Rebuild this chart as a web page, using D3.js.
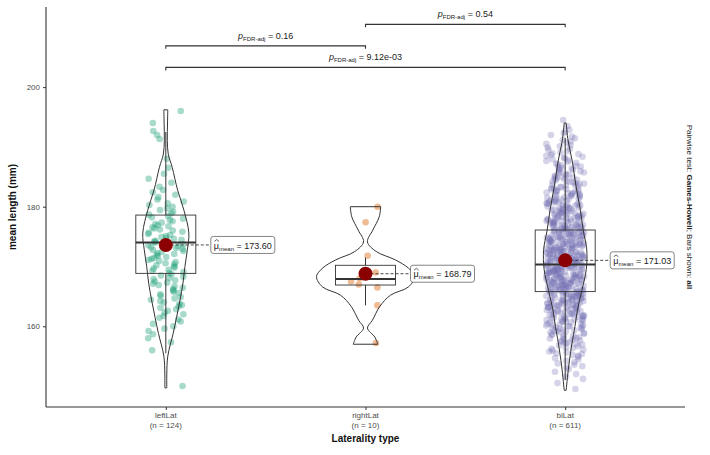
<!DOCTYPE html>
<html><head><meta charset="utf-8">
<script src="https://cdn.jsdelivr.net/npm/d3@7"></script>
<style>body{margin:0;background:#fff} text{font-family:"Liberation Sans",Arial,sans-serif}</style>
</head><body><svg id="c" width="710" height="455"></svg>
<script>
// ---------------- data ----------------
const categories = ["leftLat", "rightLat", "biLat"];
const groupN = [124, 10, 611];
const colors = ["#1B9E77", "#D95F02", "#7570B3"];
const means = [173.60, 168.79, 171.03];
const meanLabels = ["173.60", "168.79", "171.03"];
const q1 = [168.85, 166.9, 165.8];
const medians = [174.0, 167.9, 170.35];
const q3 = [178.6, 170.2, 176.1];
const whiskerLow = [155.5, 163.5, 151.0];
const whiskerHigh = [192.5, 171.5, 191.5];
const yTicks = [160, 180, 200];

// histogram of jittered points (2 mm bins)
const leftBinCenters = [150,152,154,156,158,160,162,164,166,168,170,172,174,176,178,180,182,184,186,188,190,192,194,196];
const leftLatCounts  = [1,0,0,1,3,5,7,9,9,10,11,12,13,11,9,7,5,3,2,1,0,3,1,1];
const biBinCenters   = [150,152,154,156,158,160,162,164,166,168,170,172,174,176,178,180,182,184,186,188,190,192,194];
const biLatCounts    = [2,5,9,14,20,26,33,41,47,51,52,51,48,43,37,32,27,22,18,14,10,7,2];
const rightLatValues = [180.0, 177.4, 171.8, 169.0, 168.0, 167.5, 167.0, 166.5, 163.5, 157.2];

// violin outlines: [value, relative half-width]
const violinLeft = [[149.7,0.02],[152,0.02],[155,0.04],[158.8,0.15],[161.5,0.22],[164.4,0.29],[167.2,0.35],[170,0.39],[172.8,0.44],[175.6,0.47],[179.4,0.37],[182.8,0.24],[186.6,0.13],[188.8,0.05],[191.1,0.03],[194,0.035],[196.2,0.04]];
const violinRight = [[157.0,0.25],[158.2,0.19],[159.7,0.04],[161.0,0.14],[163.3,0.29],[165.2,0.51],[166.6,0.88],[168.3,1.0],[169.7,0.88],[171.1,0.61],[172.5,0.22],[174.1,0.04],[176.1,0.15],[178.3,0.28],[180.0,0.31]];
const violinBi = [[149.3,0.02],[153.2,0.07],[157.2,0.14],[160,0.2],[162.7,0.25],[166,0.34],[169.5,0.43],[172.8,0.44],[176,0.37],[179.4,0.31],[183.5,0.22],[187.8,0.14],[191,0.06],[194,0.02]];

const pairA = ["leftLat", "rightLat", "leftLat"];
const pairB = ["rightLat", "biLat", "biLat"];
const pLabels = ["0.16", "0.54", "9.12e-03"];
const bracketY = [206.9, 210.5, 203.3];

// ---------------- build ----------------
function expand(centers, counts) {
  const out = [];
  centers.forEach((c, i) => {
    const n = counts[i];
    for (let k = 0; k < n; k++) out.push(c - 1 + (k + 0.5) * 2 / n);
  });
  return out;
}
const groupValues = [expand(leftBinCenters, leftLatCounts), rightLatValues, expand(biBinCenters, biLatCounts)];
const violins = [violinLeft, violinRight, violinBi];
// deterministic jitter (position only, not data)
function jit(i, g) { const s = Math.sin(i * 127.1 + g * 311.7 + 0.5) * 43758.5453; return s - Math.floor(s); }

const svg = d3.select("#c");
const L = 46, R = 685, T = 7, B = 407;
const x = d3.scalePoint().domain(categories).range([L, R]).padding(0.6);
const y = d3.scaleLinear().domain([146.5, 213.4]).range([B, T]);
const jitterHalf = [18, 15, 19], violinScale = 49, boxHalf = 30;
const pointOpacity = [0.38, 0.42, 0.3];
const dark = "#333333";

// points
const pts = svg.append("g");
groupValues.forEach((vals, gi) => {
  const cx = x(categories[gi]);
  pts.selectAll(null).data(vals).enter().append("circle")
    .attr("cx", (d, i) => cx + (jit(i, gi) - 0.5) * 2 * jitterHalf[gi])
    .attr("cy", d => y(d))
    .attr("r", 3.3)
    .attr("fill", colors[gi])
    .attr("fill-opacity", pointOpacity[gi]);
});

// boxplots
categories.forEach((c, i) => {
  const cx = x(c);
  const g = svg.append("g").attr("stroke", dark).attr("fill", "none");
  g.append("line").attr("x1", cx).attr("x2", cx).attr("y1", y(q3[i])).attr("y2", y(whiskerHigh[i])).attr("stroke-width", 1);
  g.append("line").attr("x1", cx).attr("x2", cx).attr("y1", y(q1[i])).attr("y2", y(whiskerLow[i])).attr("stroke-width", 1);
  g.append("rect").attr("x", cx - boxHalf).attr("width", 2 * boxHalf)
    .attr("y", y(q3[i])).attr("height", y(q1[i]) - y(q3[i])).attr("stroke-width", 0.9);
  g.append("line").attr("x1", cx - boxHalf).attr("x2", cx + boxHalf)
    .attr("y1", y(medians[i])).attr("y2", y(medians[i])).attr("stroke-width", 2);
});

// violins
violins.forEach((prof, i) => {
  const cx = x(categories[i]);
  const area = d3.area()
    .y(d => y(d[0]))
    .x0(d => cx - d[1] * violinScale)
    .x1(d => cx + d[1] * violinScale)
    .curve(d3.curveCatmullRom);
  svg.append("path").attr("d", area(prof)).attr("fill", "none").attr("stroke", dark).attr("stroke-width", 1);
});

// mean points and labels
categories.forEach((c, i) => {
  const cx = x(c), cy = y(means[i]);
  const lx = cx + 45;
  svg.append("line").attr("x1", cx).attr("x2", lx).attr("y1", cy).attr("y2", cy)
    .attr("stroke", dark).attr("stroke-width", 0.9).attr("stroke-dasharray", "3,2");
  svg.append("circle").attr("cx", cx).attr("cy", cy).attr("r", 7).attr("fill", "#8B0000");
  const g = svg.append("g");
  const rect = g.append("rect").attr("fill", "#fff").attr("stroke", "#666").attr("stroke-width", 0.8).attr("rx", 2.5);
  const tx = lx + 3, ty = cy + 3.6;
  const t = g.append("text").attr("x", tx).attr("y", ty).attr("font-size", 9).attr("fill", "#222");
  t.append("tspan").text("\u03BC");
  t.append("tspan").attr("font-size", 6).attr("dy", 2).text("mean");
  t.append("tspan").attr("dy", -2).text(" = " + meanLabels[i]);
  const muW = t.node().getSubStringLength(0, 1);
  g.append("path").attr("d", `M${tx + 0.6},${ty - 7.2}L${tx + muW / 2 + 0.3},${ty - 9}L${tx + muW},${ty - 7.2}`)
    .attr("fill", "none").attr("stroke", "#222").attr("stroke-width", 0.7);
  const w = t.node().getComputedTextLength();
  rect.attr("x", lx).attr("y", cy - 8.5).attr("width", w + 6).attr("height", 17);
});

// significance brackets
pairA.forEach((a, i) => {
  const x1 = x(a), x2 = x(pairB[i]), by = y(bracketY[i]);
  svg.append("path").attr("d", `M${x1},${by + 3}V${by}H${x2}V${by + 3}`)
    .attr("fill", "none").attr("stroke", dark).attr("stroke-width", 1.1);
  const t = svg.append("text").attr("x", (x1 + x2) / 2).attr("y", by - 7).attr("text-anchor", "middle")
    .attr("font-size", 9).attr("fill", "#222");
  t.append("tspan").attr("font-style", "italic").text("p");
  t.append("tspan").attr("font-size", 6).attr("dy", 2).text("FDR-adj");
  t.append("tspan").attr("dy", -2).text(" = " + pLabels[i]);
});

// axes
const yAxis = svg.append("g").attr("transform", `translate(${L},0)`)
  .call(d3.axisLeft(y).tickValues(yTicks).tickSize(3).tickPadding(3));
yAxis.select(".domain").attr("d", `M0,${T}V${B}`).attr("stroke", dark).attr("stroke-width", 1.1);
yAxis.selectAll(".tick line").attr("stroke", dark);
yAxis.selectAll(".tick text").attr("font-size", 8).attr("fill", "#4d4d4d").attr("font-family", "Liberation Sans, Arial, sans-serif");

const xAxis = svg.append("g").attr("transform", `translate(0,${B})`)
  .call(d3.axisBottom(x).tickSize(3).tickFormat(""));
xAxis.select(".domain").attr("d", `M${L},0H${R}`).attr("stroke", dark).attr("stroke-width", 1.1);
xAxis.selectAll(".tick line").attr("stroke", dark);
categories.forEach((c, i) => {
  const t = svg.append("text").attr("x", x(c)).attr("y", B + 11).attr("text-anchor", "middle")
    .attr("font-size", 8).attr("fill", "#4d4d4d");
  t.append("tspan").attr("x", x(c)).text(c);
  t.append("tspan").attr("x", x(c)).attr("dy", 9.5).text("(n = " + groupN[i] + ")");
});

svg.append("text").attr("x", x("rightLat")).attr("y", B + 35).attr("text-anchor", "middle")
  .attr("font-size", 10).attr("font-weight", "bold").attr("fill", "#111").text("Laterality type");
svg.append("text").attr("transform", `translate(16,${(T + B) / 2}) rotate(-90)`).attr("text-anchor", "middle")
  .attr("font-size", 10).attr("font-weight", "bold").attr("fill", "#111").text("mean length (mm)");

const cap = svg.append("text").attr("transform", `translate(687,${(T + B) / 2}) rotate(90)`).attr("text-anchor", "middle")
  .attr("font-size", 8).attr("fill", "#222");
cap.append("tspan").text("Pairwise test: ");
cap.append("tspan").attr("font-weight", "bold").text("Games-Howell");
cap.append("tspan").text("; Bars shown: ");
cap.append("tspan").attr("font-weight", "bold").text("all");
</script></body></html>
